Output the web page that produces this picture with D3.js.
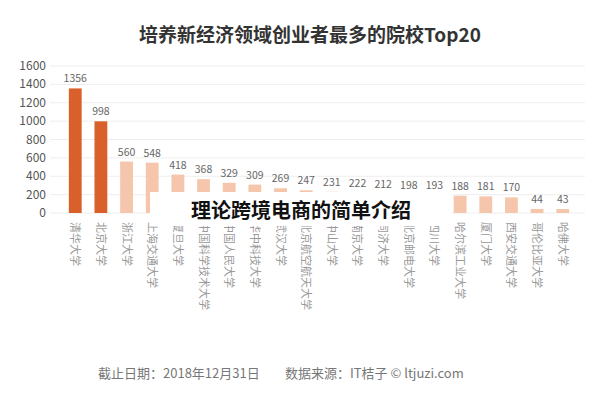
<!DOCTYPE html><html><head><meta charset="utf-8"><script src="https://cdn.jsdelivr.net/npm/d3@7"></script>
<style>body{margin:0;background:#fff;font-family:"Noto Sans CJK SC",sans-serif}</style></head><body><svg id="c" width="600" height="400"></svg>
<script>
const categories=["清华大学","北京大学","浙江大学","上海交通大学","复旦大学","中国科学技术大学","中国人民大学","华中科技大学","武汉大学","北京航空航天大学","中山大学","南京大学","同济大学","北京邮电大学","四川大学","哈尔滨工业大学","厦门大学","西安交通大学","哥伦比亚大学","哈佛大学"];
const values=[1356,998,560,548,418,368,329,309,269,247,231,222,212,198,193,188,181,170,44,43];
const yTicks=[0,200,400,600,800,1000,1200,1400,1600];
const svg=d3.select("#c");
const x=d3.scaleBand().domain(categories).range([56,582]).padding(0.5);
const y=d3.scaleLinear().domain([0,1600]).range([213,66]);
svg.append("text").attr("x",310).attr("y",42).attr("text-anchor","middle").attr("font-size",19).attr("font-weight","bold").attr("fill","#333").text("培养新经济领域创业者最多的院校Top20");
svg.selectAll(".g").data(yTicks).join("line").attr("x1",50).attr("x2",585).attr("y1",d=>y(d)).attr("y2",d=>y(d)).attr("stroke","#eee");
svg.selectAll(".yt").data(yTicks).join("text").attr("x",46).attr("y",d=>y(d)+4).attr("text-anchor","end").attr("font-size",12).attr("fill","#555").text(d=>d);
svg.selectAll(".b").data(values).join("rect").attr("x",(d,i)=>x(categories[i])).attr("width",x.bandwidth()).attr("y",d=>y(d)).attr("height",d=>213-y(d)).attr("fill",(d,i)=>i<2?"#d9602a":"#f5c6ab");
svg.selectAll(".v").data(values).join("text").attr("x",(d,i)=>x(categories[i])+x.bandwidth()/2).attr("y",d=>y(d)-6).attr("text-anchor","middle").attr("font-size",10.5).attr("fill","#666").text(d=>d);
svg.selectAll(".xl").data(categories).join("text").attr("transform",d=>`translate(${x(d)+x.bandwidth()/2-4},222) rotate(90)`).attr("font-size",11).attr("fill","#999").text(d=>d);
svg.append("rect").attr("x",150).attr("y",192).attr("width",302).attr("height",34).attr("fill","#fff");
svg.append("text").attr("x",301).attr("y",218).attr("text-anchor","middle").attr("font-size",20).attr("font-weight","bold").attr("fill","#111").text("理论跨境电商的简单介绍");
svg.append("text").attr("x",98).attr("y",378).attr("font-size",13).attr("fill","#777").text("截止日期：2018年12月31日");
svg.append("text").attr("x",285).attr("y",378).attr("font-size",13).attr("fill","#777").text("数据来源：IT桔子 © ltjuzi.com");
</script></body></html>
